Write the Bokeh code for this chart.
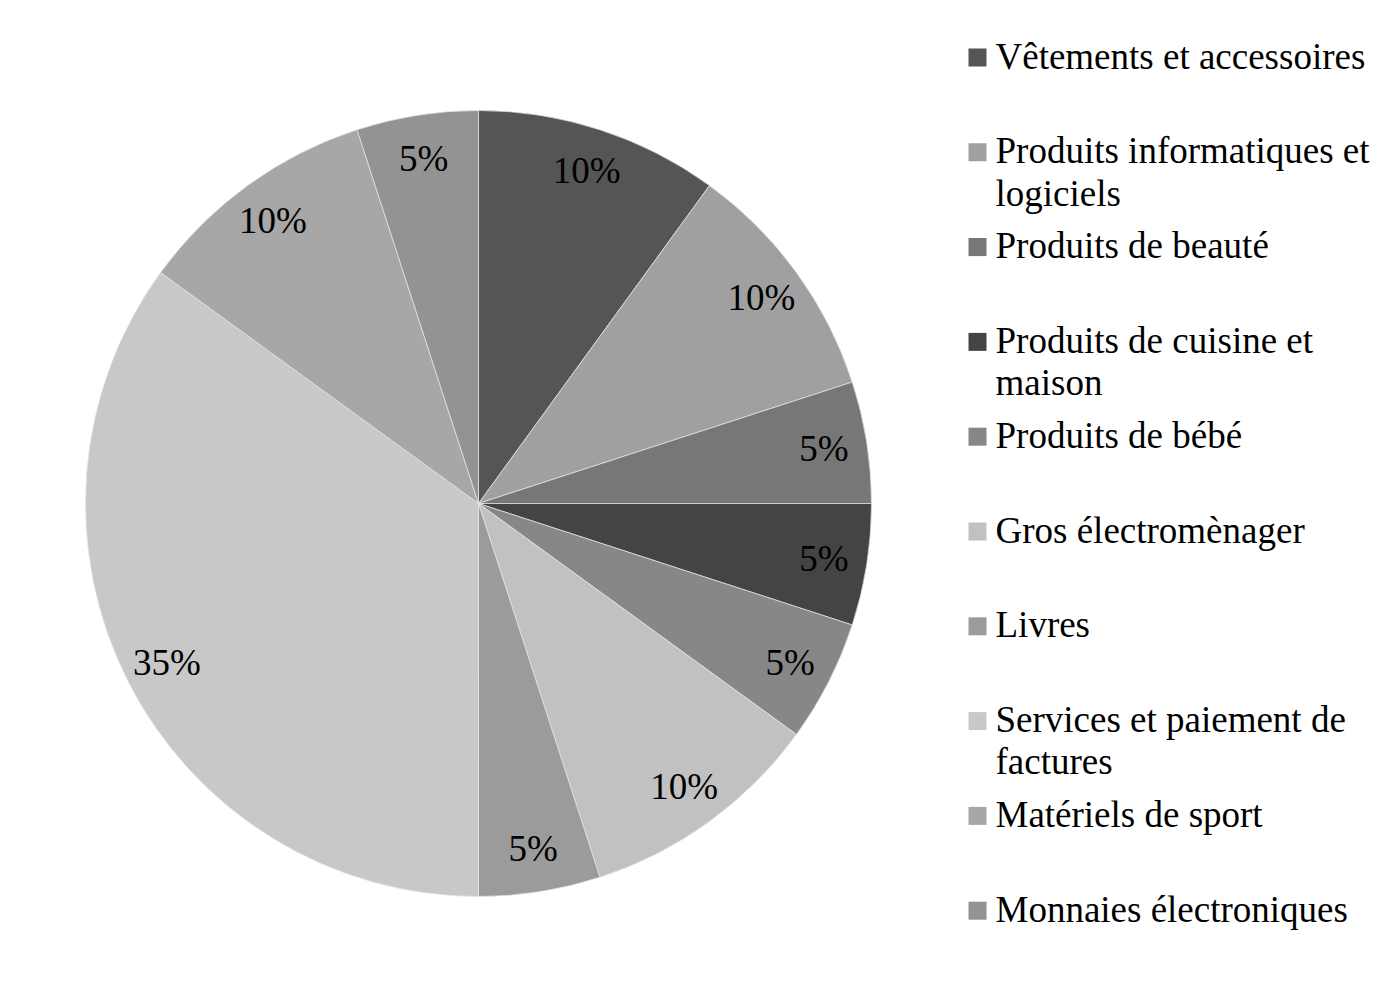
import math
from bokeh.plotting import figure
from bokeh.models import ColumnDataSource, Range1d
from bokeh.core.properties import value
from bokeh.embed import file_html
from bokeh.resources import INLINE

categories = [
    "Vêtements et accessoires",
    "Produits informatiques et\nlogiciels",
    "Produits de beauté",
    "Produits de cuisine et\nmaison",
    "Produits de bébé",
    "Gros électromènager",
    "Livres",
    "Services et paiement de\nfactures",
    "Matériels de sport",
    "Monnaies électroniques",
]
shares = [10, 10, 5, 5, 5, 10, 5, 35, 10, 5]
colors = ["#555555", "#a0a0a0", "#777777", "#444444", "#878787",
          "#c1c1c1", "#9b9b9b", "#c8c8c8", "#a7a7a7", "#939393"]

W, H = 1380, 990
FONT = "Liberation Serif"
FS = "37px"

p = figure(width=W, height=H, output_backend="svg", toolbar_location=None,
           x_range=Range1d(0, W), y_range=Range1d(0, H), min_border=0)
p.axis.visible = False
p.grid.visible = False
p.outline_line_color = None
p.background_fill_color = "white"

cx, cy, R = 478, 487, 393
total = sum(shares)
starts, ends, lx, ly, labels = [], [], [], [], []
acc = 0
for s in shares:
    a0 = math.pi / 2 - 2 * math.pi * acc / total
    a1 = math.pi / 2 - 2 * math.pi * (acc + s) / total
    starts.append(a0)
    ends.append(a1)
    mid = (a0 + a1) / 2
    lx.append(cx + 0.89 * R * math.cos(mid))
    ly.append(cy + 0.89 * R * math.sin(mid))
    labels.append(f"{round(100 * s / total)}%")
    acc += s

src = ColumnDataSource(dict(start=starts, end=ends, color=colors))
p.wedge(x=cx, y=cy, radius=R, start_angle="start", end_angle="end",
        direction="clock", fill_color="color", line_color="#e8e8e8",
        line_width=0.7, source=src)

p.text(x=lx, y=ly, text=labels, text_font=value(FONT), text_font_size=FS,
       text_align="center", text_baseline="middle", text_color="black")

# legend
top_y = H - 57
step = 94.8
ys = [top_y - i * step for i in range(len(categories))]
p.rect(x=[977] * len(categories), y=ys, width=18, height=18,
       fill_color=colors, line_color=None)
p.text(x=[995] * len(categories), y=[y + 22 for y in ys], text=categories,
       text_font=value(FONT), text_font_size=FS, text_align="left",
       text_baseline="top", text_color="black", text_line_height=1.03)

open("out.html", "w").write(file_html(p, INLINE))
